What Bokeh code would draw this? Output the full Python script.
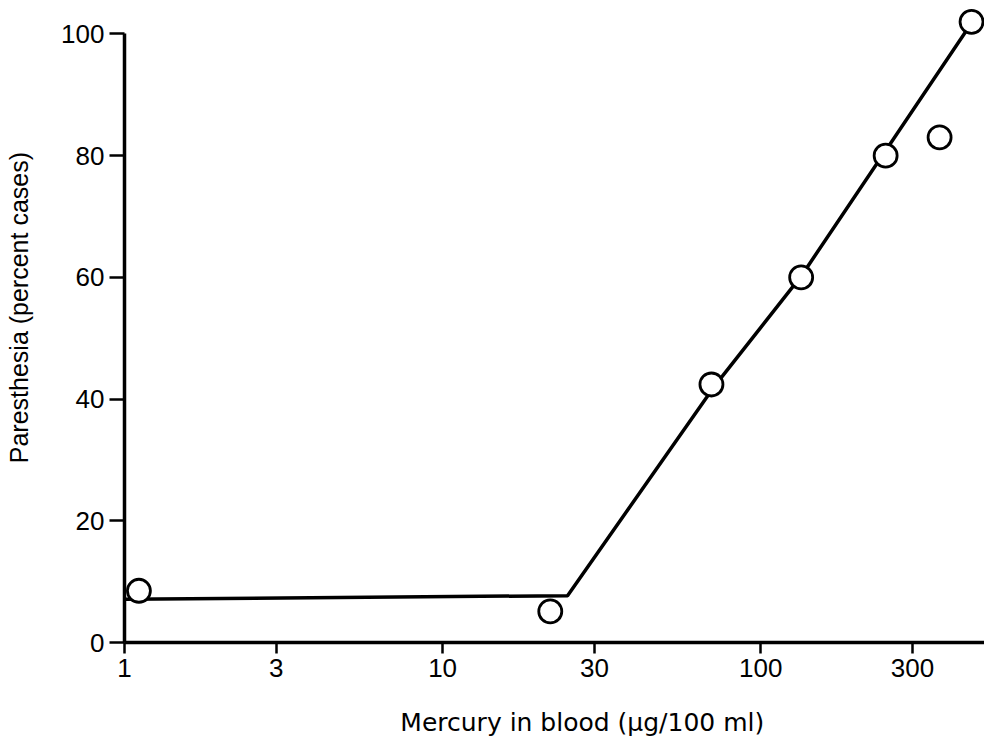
from bokeh.plotting import figure
from bokeh.models import Range1d, FixedTicker, PrintfTickFormatter
from bokeh.embed import file_html
from bokeh.resources import INLINE

# Data
mercury = [1.11, 21.8, 70, 134, 247, 365, 460]          # µg/100 ml
paresthesia = [8.5, 5.1, 42.4, 60.0, 80.0, 83.0, 102.0]  # percent cases

fit_x = [1, 24.7, 72, 134, 444]
fit_y = [7.1, 7.7, 42.3, 60.2, 100.6]

x_ticks = [1, 3, 10, 30, 100, 300]
y_ticks = [0, 20, 40, 60, 80, 100]

x_title = "Mercury in blood (\u03bcg/100 ml)"
y_title = "Paresthesia (percent cases)"

FONT = "Liberation Sans"
NBSP = "\u00a0"

p = figure(width=984, height=742, x_axis_type="log",
           x_range=Range1d(1, 505.2), y_range=Range1d(0, 105.5),
           output_backend="svg", toolbar_location=None,
           min_border_left=124, min_border_right=0,
           min_border_top=0, min_border_bottom=100)
p.outline_line_color = None
p.grid.visible = False
p.background_fill_color = "white"
p.border_fill_color = "white"

for ax in (p.xaxis[0], p.yaxis[0]):
    ax.axis_line_width = 3.5
    ax.axis_line_color = "black"
    ax.major_tick_line_width = 2.5
    ax.major_tick_line_color = "black"
    ax.major_tick_in = 0
    ax.minor_tick_in = 0
    ax.minor_tick_out = 0
    ax.major_label_text_font = FONT
    ax.major_label_text_font_size = "26px"
    ax.major_label_text_color = "black"
    ax.axis_label_text_font_size = "25px"
    ax.axis_label_text_font_style = "normal"
    ax.axis_label_text_color = "black"

xa = p.xaxis[0]
xa.ticker = FixedTicker(ticks=x_ticks)
xa.formatter = PrintfTickFormatter(format="%d")
xa.major_tick_out = 11
xa.major_label_standoff = 5
# leading no-break spaces shift the centred title to where the original sits
xa.axis_label = NBSP * 7 + x_title
xa.axis_label_text_font = "DejaVu Sans"
xa.axis_label_standoff = 28

ya = p.yaxis[0]
ya.ticker = FixedTicker(ticks=y_ticks)
ya.bounds = (0, 100)
ya.major_tick_out = 15
ya.major_label_standoff = 5
ya.axis_label = NBSP * 4 + y_title
ya.axis_label_text_font = FONT
ya.axis_label_standoff = 25

p.line(fit_x, fit_y, line_width=3.5, line_color="black")
p.scatter(mercury, paresthesia, size=23, fill_color="white",
          line_color="black", line_width=2.8)

open("out.html", "w").write(file_html(p, INLINE))
